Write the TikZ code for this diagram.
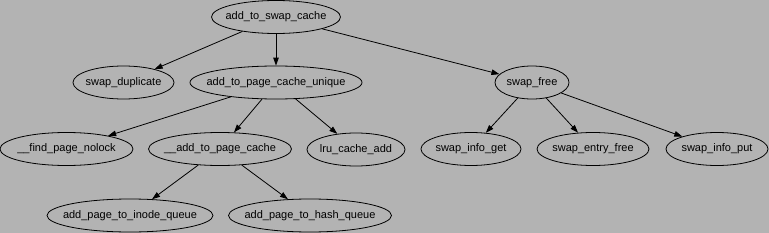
\documentclass[tikz,border=0pt]{standalone}
\usepackage{fontspec}
\setmainfont{Liberation Sans}
\usetikzlibrary{arrows.meta, shapes.geometric}
\definecolor{callbg}{RGB}{179,179,179}

\begin{document}
\begin{tikzpicture}[
    x=1pt, y=-1pt,
    font=\fontsize{11}{13}\selectfont,
    fn/.style={ellipse, draw, line width=0.8pt, inner xsep=-30pt, inner ysep=-4pt,
               minimum height=33pt, minimum width=#1},
    arr/.style={-{Triangle[length=8pt, width=5.5pt]}, line width=0.8pt}
]
% Canvas: same size as the call graph image
\fill[callbg] (0,0) rectangle (769,233);
\useasboundingbox (0,0) rectangle (769,233);

% Root and first level
\node[fn=129pt] (swapcache) at (276,17) {add\_to\_swap\_cache};
\node[fn=101pt] (dup) at (123.5,82.5) {swap\_duplicate};
\node[fn=172pt] (unique) at (276,82.5) {add\_to\_page\_cache\_unique};
\node[fn=74pt] (free) at (532,82.5) {swap\_free};

% Second level
\node[fn=133pt] (findpg) at (66.5,149) {\_\_find\_page\_nolock};
\node[fn=143pt] (addpc) at (220,149) {\_\_add\_to\_page\_cache};
\node[fn=98pt] (lru) at (356,149.5) {lru\_cache\_add};
\node[fn=100pt] (infoget) at (471,149) {swap\_info\_get};
\node[fn=112pt] (entryfree) at (593,149) {swap\_entry\_free};
\node[fn=102pt] (infoput) at (717,149) {swap\_info\_put};

% Third level
\node[fn=166pt] (inode) at (130,215.5) {add\_page\_to\_inode\_queue};
\node[fn=163pt] (hash) at (310,215.5) {add\_page\_to\_hash\_queue};

% Calls
\draw[arr] (swapcache) -- (dup);
\draw[arr] (swapcache) -- (unique);
\draw[arr] (swapcache) -- (free);
\draw[arr] (unique) -- (findpg);
\draw[arr] (unique) -- (addpc);
\draw[arr] (unique) -- (lru);
\draw[arr] (addpc) -- (inode);
\draw[arr] (addpc) -- (hash);
\draw[arr] (free) -- (infoget);
\draw[arr] (free) -- (entryfree);
\draw[arr] (free) -- (infoput);
\end{tikzpicture}
\end{document}
